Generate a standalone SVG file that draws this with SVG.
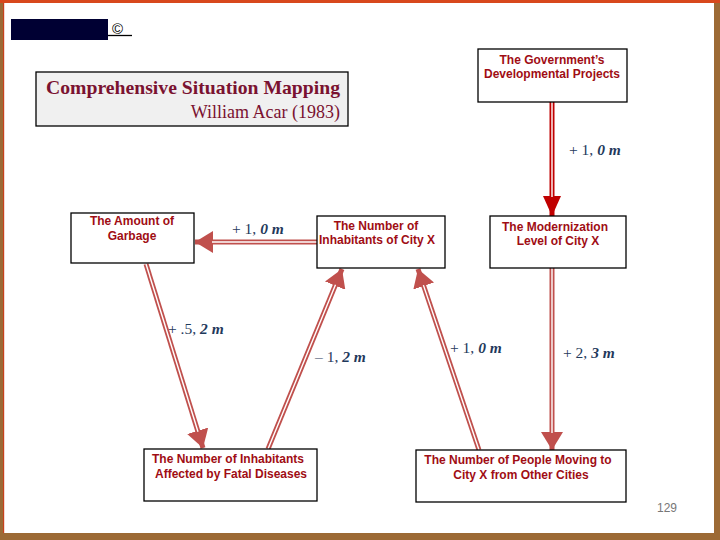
<svg xmlns="http://www.w3.org/2000/svg" width="720" height="540" viewBox="0 0 720 540">
<defs>
<style>
.box{fill:#fff;stroke:#000;stroke-width:1.3}
.nt{font-family:"Liberation Sans",Arial,sans-serif;font-weight:bold;font-size:12px;fill:#a00d14;text-anchor:middle}
.lbl{font-family:"Liberation Serif","Times New Roman",serif;font-size:15.5px;fill:#1f3a5c}
.it{font-style:italic;font-weight:bold}
.outer{stroke:#c0504d;stroke-width:5;fill:none}
.inner{stroke:#fff;stroke-width:1.4;fill:none}
</style>
<marker id="ah" markerUnits="userSpaceOnUse" viewBox="0 -11 18 22" refX="18" refY="0" markerWidth="18" markerHeight="22" orient="auto">
<path d="M0,-11 L18,0 L0,11 z" fill="#c0504d"/>
</marker>
<marker id="ahd" markerUnits="userSpaceOnUse" viewBox="0 -9 20 18" refX="20" refY="0" markerWidth="20" markerHeight="18" orient="auto">
<path d="M0,-9 L20,0 L0,9 z" fill="#c00000"/>
</marker>
</defs>
<rect x="0" y="0" width="720" height="540" fill="#9c6a35"/>
<rect x="3" y="3" width="711" height="530" fill="#fff"/>
<rect x="0" y="0" width="720" height="3" fill="#d8481c"/>
<rect x="3" y="3" width="1.2" height="530" fill="#c8401c"/>

<g id="header">
<rect x="11" y="19" width="97" height="21" fill="#000033"/>
<text x="112" y="34" font-family="Liberation Sans,Arial,sans-serif" font-size="15" fill="#000">©</text>
<line x1="108" y1="35.5" x2="132" y2="35.5" stroke="#000" stroke-width="1.3"/>
</g>

<g id="title">
<rect x="36" y="72" width="312" height="54" fill="#f0f0f0" stroke="#000" stroke-width="1.3"/>
<text x="46" y="94" font-family="Liberation Serif,'Times New Roman',serif" font-weight="bold" font-size="19" fill="#7a1230" textLength="294" lengthAdjust="spacingAndGlyphs">Comprehensive Situation Mapping</text>
<text x="340" y="118" font-family="Liberation Serif,'Times New Roman',serif" font-size="18" fill="#7a1230" text-anchor="end">William Acar (1983)</text>
</g>

<g id="connectors">
<line x1="552" y1="102" x2="552" y2="216" stroke="#c00000" stroke-width="5" marker-end="url(#ahd)"/>
<line x1="552" y1="102" x2="552" y2="197" class="inner"/>
<line x1="317" y1="242" x2="195" y2="242" class="outer" marker-end="url(#ah)"/>
<line x1="317" y1="242" x2="212" y2="242" class="inner"/>
<line x1="146" y1="264" x2="203" y2="448" class="outer" marker-end="url(#ah)"/>
<line x1="146" y1="264" x2="198" y2="431.8" class="inner"/>
<line x1="268" y1="449" x2="342" y2="269" class="outer" marker-end="url(#ah)"/>
<line x1="268" y1="449" x2="335.5" y2="284.7" class="inner"/>
<line x1="479" y1="450" x2="418" y2="269" class="outer" marker-end="url(#ah)"/>
<line x1="479" y1="450" x2="423.4" y2="285.1" class="inner"/>
<line x1="552" y1="268" x2="552" y2="450" class="outer" marker-end="url(#ah)"/>
<line x1="552" y1="268" x2="552" y2="433" class="inner"/>
</g>

<g id="labels">
<text class="lbl" x="569" y="155">+ 1, <tspan class="it">0 m</tspan></text>
<text class="lbl" x="232" y="234">+ 1, <tspan class="it">0 m</tspan></text>
<text class="lbl" x="168" y="334">+ .5, <tspan class="it">2 m</tspan></text>
<text class="lbl" x="315" y="362">– 1, <tspan class="it">2 m</tspan></text>
<text class="lbl" x="450" y="353">+ 1, <tspan class="it">0 m</tspan></text>
<text class="lbl" x="563" y="358">+ 2, <tspan class="it">3 m</tspan></text>
</g>

<g id="gov">
<rect class="box" x="478" y="49" width="149" height="53"/>
<text class="nt" x="552" y="64">The Government’s</text>
<text class="nt" x="552" y="78">Developmental Projects</text>
</g>
<g id="modern">
<rect class="box" x="490" y="216" width="136" height="52"/>
<text class="nt" x="555" y="231">The Modernization</text>
<text class="nt" x="558" y="245">Level of City X</text>
</g>
<g id="inhab">
<rect class="box" x="317" y="216" width="128" height="52"/>
<text class="nt" x="376" y="230">The Number of</text>
<text class="nt" x="377" y="244">Inhabitants of City X</text>
</g>
<g id="garbage">
<rect class="box" x="71" y="213" width="123" height="50"/>
<text class="nt" x="132" y="225">The Amount of</text>
<text class="nt" x="132" y="240">Garbage</text>
</g>
<g id="fatal">
<rect class="box" x="144" y="449" width="173" height="52"/>
<text class="nt" x="228" y="463">The Number of Inhabitants</text>
<text class="nt" x="231" y="478">Affected by Fatal Diseases</text>
</g>
<g id="moving">
<rect class="box" x="416" y="450" width="210" height="52"/>
<text class="nt" x="518" y="464">The Number of People Moving to</text>
<text class="nt" x="521" y="479">City X from Other Cities</text>
</g>

<text x="677" y="512" font-family="Liberation Sans,Arial,sans-serif" font-size="12" fill="#777" text-anchor="end">129</text>
</svg>
